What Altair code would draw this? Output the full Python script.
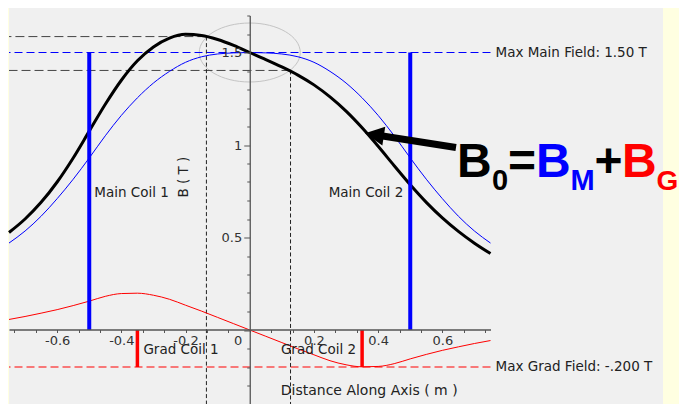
import altair as alt
import pandas as pd

# ---------------- data ----------------
pos = [-0.75, -0.70, -0.65, -0.60, -0.55, -0.50, -0.45, -0.40, -0.35, -0.30, -0.25,
       -0.20, -0.15, -0.10, -0.05, 0.00, 0.05, 0.10, 0.15, 0.20, 0.25, 0.30,
       0.35, 0.40, 0.45, 0.50, 0.55, 0.60, 0.65, 0.70, 0.75]
b_main = [0.470, 0.535, 0.615, 0.710, 0.815, 0.930, 1.050, 1.160, 1.255, 1.335, 1.398,
          1.447, 1.477, 1.492, 1.498, 1.500, 1.498, 1.492, 1.477, 1.447, 1.398, 1.335,
          1.255, 1.160, 1.050, 0.930, 0.815, 0.710, 0.615, 0.535, 0.470]
b_grad = [0.057, 0.073, 0.091, 0.110, 0.132, 0.156, 0.182, 0.197, 0.199, 0.188, 0.166,
          0.134, 0.102, 0.068, 0.034, 0.000, -0.034, -0.068, -0.102, -0.134, -0.166, -0.188,
          -0.199, -0.197, -0.182, -0.156, -0.132, -0.110, -0.091, -0.073, -0.057]
b_total = [0.527, 0.600, 0.690, 0.800, 0.930, 1.075, 1.220, 1.350, 1.455, 1.530, 1.578,
           1.598, 1.592, 1.570, 1.538, 1.500, 1.462, 1.422, 1.378, 1.325, 1.260, 1.183,
           1.093, 0.993, 0.888, 0.785, 0.690, 0.606, 0.533, 0.469, 0.413]

main_coil_x = [-0.5, 0.5]
main_coil_labels = ["Main Coil 1", "Main Coil 2"]
grad_coil_x = [-0.35, 0.35]
grad_coil_labels = ["Grad Coil 1", "Grad Coil 2"]
max_main = 1.50
max_grad = -0.200
max_labels = ["Max Main Field: 1.50 T", "Max Grad Field: -.200 T"]
probe_x = [-0.135, 0.127]
probe_b = [1.586, 1.403]
axis_titles = ["B ( T )", "Distance Along Axis ( m )"]

x_ticks = [-0.7333, -0.6667, -0.6, -0.5333, -0.4667, -0.4, -0.3333, -0.2667, -0.2, -0.1333,
           -0.0667, 0.0, 0.0667, 0.1333, 0.2, 0.2667, 0.3333, 0.4, 0.4667, 0.5333, 0.6,
           0.6667, 0.7333]
y_ticks = [-0.4, -0.3, -0.2, -0.1, 0.0, 0.1, 0.2, 0.3, 0.4, 0.5, 0.6, 0.7, 0.8, 0.9,
           1.0, 1.1, 1.2, 1.3, 1.4, 1.5, 1.6, 1.7]
x_domain = [-0.75, 0.75]
y_domain = [-0.4, 1.7]

# ---------------- tables ----------------
curves = pd.DataFrame({"pos": pos, "bm": b_main, "bg": b_grad, "b0": b_total})
main_df = pd.DataFrame({"x": main_coil_x, "lab": main_coil_labels,
                        "y0": [0.0, 0.0], "y1": [max_main, max_main], "ly": [0.72, 0.72]})
grad_df = pd.DataFrame({"x": grad_coil_x, "lab": grad_coil_labels,
                        "y0": [0.0, 0.0], "y1": [max_grad, max_grad], "ly": [-0.132, -0.132]})
max_df = pd.DataFrame({"y": [max_main, max_grad], "lab": max_labels,
                       "x": [x_domain[1], x_domain[1]]})
probe_df = pd.DataFrame({"x": probe_x, "y": probe_b})
ell_df = pd.DataFrame({"x": [0.0], "y": [max_main]})
ytitle_df = pd.DataFrame({"x": [-0.204], "y": [0.716], "t": [axis_titles[0]]})
xtitle_df = pd.DataFrame({"x": [0.372], "y": [-0.354], "t": [axis_titles[1]]})
one = pd.DataFrame({"a": [0]})

W = 481.5
H = 388.5
xs = alt.Scale(domain=x_domain, nice=False, zero=False)
ys = alt.Scale(domain=y_domain, nice=False, zero=False)
FONT = "DejaVu Sans"
BIG = "Liberation Sans"

axis_x = alt.Axis(values=x_ticks, offset=-74.5, title=None, grid=False, zindex=1,
                  domainColor="#555555", domainWidth=1.3, tickColor="#555555", tickSize=3,
                  labelFont=FONT, labelFontSize=13, labelColor="#333333", labelPadding=2,
                  labelFlush=False, labelOverlap=False,
                  labelExpr="abs(datum.value*5 - round(datum.value*5)) < 0.001 ? "
                            "replace(format(datum.value, '~g'), '\u2212', '-') : ''",
                  labelOffset={"condition": {"test": "datum.value == 0", "value": -12}, "value": 0})
axis_y = alt.Axis(values=y_ticks, offset=-240.75, title=None, grid=False, zindex=1,
                  domainColor="#555555", domainWidth=1.3, tickColor="#555555",
                  tickSize={"condition": {"test": "abs(datum.value*2 - round(datum.value*2)) < 0.001",
                                          "value": 6}, "value": 3},
                  labelFont=FONT, labelFontSize=13, labelColor="#333333", labelPadding=2,
                  labelFlush=False, labelOverlap=False,
                  labelExpr="(abs(datum.value-0.5)<0.001 || abs(datum.value-1)<0.001 || "
                            "abs(datum.value-1.5)<0.001) ? format(datum.value, '~g') : ''")


def X(f):
    return alt.X(f, type="quantitative", scale=xs, axis=axis_x)


def Y(f):
    return alt.Y(f, type="quantitative", scale=ys, axis=axis_y)


panel = alt.Chart(one).mark_rect(color="#F0F0F0").encode(
    x=alt.value(0), x2=alt.value(654), y=alt.value(-12), y2=alt.value(H + 10))

ellipse_path = ("M-1,0C-1,-0.3225,-0.5523,-0.584,0,-0.584C0.5523,-0.584,1,-0.3225,1,0"
                "C1,0.3225,0.5523,0.584,0,0.584C-0.5523,0.584,-1,0.3225,-1,0Z")
ellipse = alt.Chart(ell_df).mark_point(shape=ellipse_path, size=10201, filled=False,
                                       stroke="#C4C4C4", strokeWidth=1, opacity=1).encode(
    x=X("x"), y=Y("y"))

max_lines = alt.Chart(max_df).mark_rule(strokeWidth=1, strokeDash=[8, 4]).encode(
    y=Y("y"),
    color=alt.Color("lab:N", scale=alt.Scale(domain=max_labels, range=["#0000FF", "#FF0000"]),
                    legend=None))
max_text = alt.Chart(max_df).mark_text(align="left", baseline="middle", dx=5, font=FONT,
                                       fontSize=13.5, color="#222222").encode(
    x=X("x"), y=Y("y"), text="lab:N")

probe_h = alt.Chart(probe_df).mark_rule(color="#444444", strokeWidth=1, strokeDash=[9, 4]).encode(
    x=X("x"), x2=alt.value(0), y=Y("y"))
probe_v = alt.Chart(probe_df).mark_rule(color="#222222", strokeWidth=1, strokeDash=[4, 2.5]).encode(
    x=X("x"), y=Y("y"), y2=alt.value(H))

base = alt.Chart(curves)
line_bm = base.mark_line(color="#0000FF", strokeWidth=1, interpolate="monotone").encode(
    x=X("pos"), y=Y("bm"))
line_bg = base.mark_line(color="#FF0000", strokeWidth=1, interpolate="monotone").encode(
    x=X("pos"), y=Y("bg"))
line_b0 = base.mark_line(color="#000000", strokeWidth=3, interpolate="monotone").encode(
    x=X("pos"), y=Y("b0"))

main_rules = alt.Chart(main_df).mark_rule(color="#0000FF", strokeWidth=4).encode(
    x=X("x"), y=Y("y0"), y2=alt.Y2("y1"))
grad_rules = alt.Chart(grad_df).mark_rule(color="#FF0000", strokeWidth=3.5).encode(
    x=X("x"), y=Y("y0"), y2=alt.Y2("y1"))

lab_style = dict(font=FONT, fontSize=13.5, color="#222222", baseline="alphabetic")
main_lab1 = alt.Chart(main_df.iloc[[0]]).mark_text(align="left", dx=5, **lab_style).encode(
    x=X("x"), y=Y("ly"), text="lab:N")
main_lab2 = alt.Chart(main_df.iloc[[1]]).mark_text(align="right", dx=-7, **lab_style).encode(
    x=X("x"), y=Y("ly"), text="lab:N")
grad_lab1 = alt.Chart(grad_df.iloc[[0]]).mark_text(align="left", dx=6, **lab_style).encode(
    x=X("x"), y=Y("ly"), text="lab:N")
grad_lab2 = alt.Chart(grad_df.iloc[[1]]).mark_text(align="right", dx=-6, **lab_style).encode(
    x=X("x"), y=Y("ly"), text="lab:N")

y_title = alt.Chart(ytitle_df).mark_text(angle=270, align="left", baseline="middle", font=FONT,
                                         fontSize=13.5, color="#222222").encode(
    x=X("x"), y=Y("y"), text="t:N")
x_title = alt.Chart(xtitle_df).mark_text(align="center", baseline="alphabetic", font=FONT,
                                         fontSize=14, color="#222222").encode(
    x=X("x"), y=Y("y"), text="t:N")

# arrow pointing at the total-field curve
shaft = alt.Chart(one).mark_rule(color="#000000", strokeWidth=7, strokeCap="butt").encode(
    x=alt.value(372), y=alt.value(120.3), x2=alt.value(447), y2=alt.value(132))
head = alt.Chart(one).mark_point(shape="M-1,0L1,-1L1,1Z", size=361, filled=True,
                                 color="#000000", opacity=1, angle=8.75).encode(
    x=alt.value(365.4), y=alt.value(119.2))


def big(txt, col, x, y, fs):
    return alt.Chart(one).mark_text(text=txt, color=col, font=BIG, fontWeight="bold",
                                    fontSize=fs, align="left", baseline="alphabetic").encode(
        x=alt.value(x), y=alt.value(y))


formula = [
    big("B", "#000000", 448, 161.5, 48),
    big("0", "#000000", 483, 174, 29),
    big("=", "#000000", 499, 161.5, 48),
    big("B", "#0000FF", 527, 161.5, 48),
    big("M", "#0000FF", 561.5, 174, 29),
    big("+", "#000000", 585.5, 161.5, 48),
    big("B", "#FF0000", 613, 161.5, 48),
    big("G", "#FF0000", 647.5, 174, 28),
]

chart = alt.layer(
    panel, ellipse, max_lines, probe_h, probe_v, line_bm, line_bg, line_b0,
    main_rules, grad_rules, max_text, main_lab1, main_lab2, grad_lab1, grad_lab2,
    y_title, x_title, shaft, head, *formula
).properties(
    width=W, height=H,
    autosize=alt.AutoSizeParams(type="none"),
    padding={"left": 1, "top": 7.5, "right": 188.5, "bottom": 0},
    background="#FFFFE1",
).configure_view(stroke=None)

chart.save("out.html", embed_options={"renderer": "svg", "actions": False})
